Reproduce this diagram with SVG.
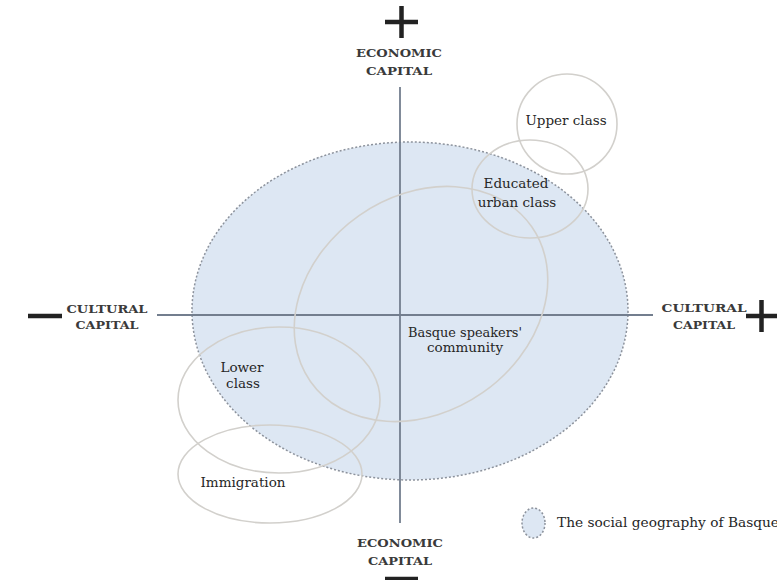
<svg xmlns="http://www.w3.org/2000/svg" width="777" height="580" viewBox="0 0 777 580">
<style>
text{font-family:"DejaVu Serif","Liberation Serif",serif;fill:#262626;}
.lbl{font-size:13.5px;}
.ax{font-size:11px;font-weight:bold;fill:#3a3a3a;}
.grp{fill:none;stroke:#d2d0cc;stroke-width:1.6;}
.axis{stroke:#737e8e;stroke-width:1.8;fill:none;}
.sign{stroke:#222;stroke-width:4.5;fill:none;}
</style>
<rect width="777" height="580" fill="#fff"/>
<g id="basque-geography">
<ellipse cx="410" cy="311" rx="218" ry="169" fill="#dde7f3" stroke="#8c929c" stroke-width="1.5" stroke-dasharray="2 2"/>
</g>
<g id="connectors">
<line class="axis" x1="400" y1="87" x2="400" y2="523"/>
<line class="axis" x1="157" y1="315" x2="653" y2="315"/>
</g>
<g id="basque-speakers">
<ellipse class="grp" cx="421" cy="304" rx="135" ry="108" transform="rotate(-35 421 304)"/>
<text class="lbl" x="465" y="337" text-anchor="middle" textLength="114" lengthAdjust="spacingAndGlyphs">Basque speakers'</text>
<text class="lbl" x="465" y="352" text-anchor="middle">community</text>
</g>
<g id="upper-class">
<circle class="grp" cx="567" cy="124" r="50"/>
<text class="lbl" x="566" y="125" text-anchor="middle">Upper class</text>
</g>
<g id="educated-urban-class">
<ellipse class="grp" cx="530" cy="189" rx="58" ry="49"/>
<text class="lbl" x="516" y="188" text-anchor="middle">Educated</text>
<text class="lbl" x="517" y="207" text-anchor="middle">urban class</text>
</g>
<g id="lower-class">
<ellipse class="grp" cx="279" cy="400" rx="101" ry="73"/>
<text class="lbl" x="242" y="372" text-anchor="middle">Lower</text>
<text class="lbl" x="243" y="388" text-anchor="middle">class</text>
</g>
<g id="immigration">
<ellipse class="grp" cx="270" cy="474" rx="92" ry="49"/>
<text class="lbl" x="243" y="487" text-anchor="middle">Immigration</text>
</g>
<g id="axis-labels">
<path class="sign" d="M385 22H418M401.5 6V38"/>
<text class="ax" x="399" y="57" text-anchor="middle" textLength="86" lengthAdjust="spacingAndGlyphs">ECONOMIC</text>
<text class="ax" x="399" y="75" text-anchor="middle" textLength="66" lengthAdjust="spacingAndGlyphs">CAPITAL</text>
<text class="ax" x="400" y="547" text-anchor="middle" textLength="86" lengthAdjust="spacingAndGlyphs">ECONOMIC</text>
<text class="ax" x="400" y="565" text-anchor="middle" textLength="64" lengthAdjust="spacingAndGlyphs">CAPITAL</text>
<path class="sign" d="M385 579H418"/>
<path class="sign" d="M28 316H62"/>
<text class="ax" x="107" y="313" text-anchor="middle" textLength="81" lengthAdjust="spacingAndGlyphs">CULTURAL</text>
<text class="ax" x="107" y="329" text-anchor="middle" textLength="63" lengthAdjust="spacingAndGlyphs">CAPITAL</text>
<text class="ax" x="704" y="312" text-anchor="middle" textLength="85" lengthAdjust="spacingAndGlyphs">CULTURAL</text>
<text class="ax" x="704" y="329" text-anchor="middle" textLength="62" lengthAdjust="spacingAndGlyphs">CAPITAL</text>
<path class="sign" d="M746 316H777M761.5 300V332"/>
</g>
<g id="legend">
<ellipse cx="533.5" cy="523" rx="11.5" ry="15" fill="#dde7f3" stroke="#8c929c" stroke-width="1.5" stroke-dasharray="2 2"/>
<text x="557" y="527" font-size="12.5" textLength="222" lengthAdjust="spacingAndGlyphs">The social geography of Basque</text>
</g>
</svg>
